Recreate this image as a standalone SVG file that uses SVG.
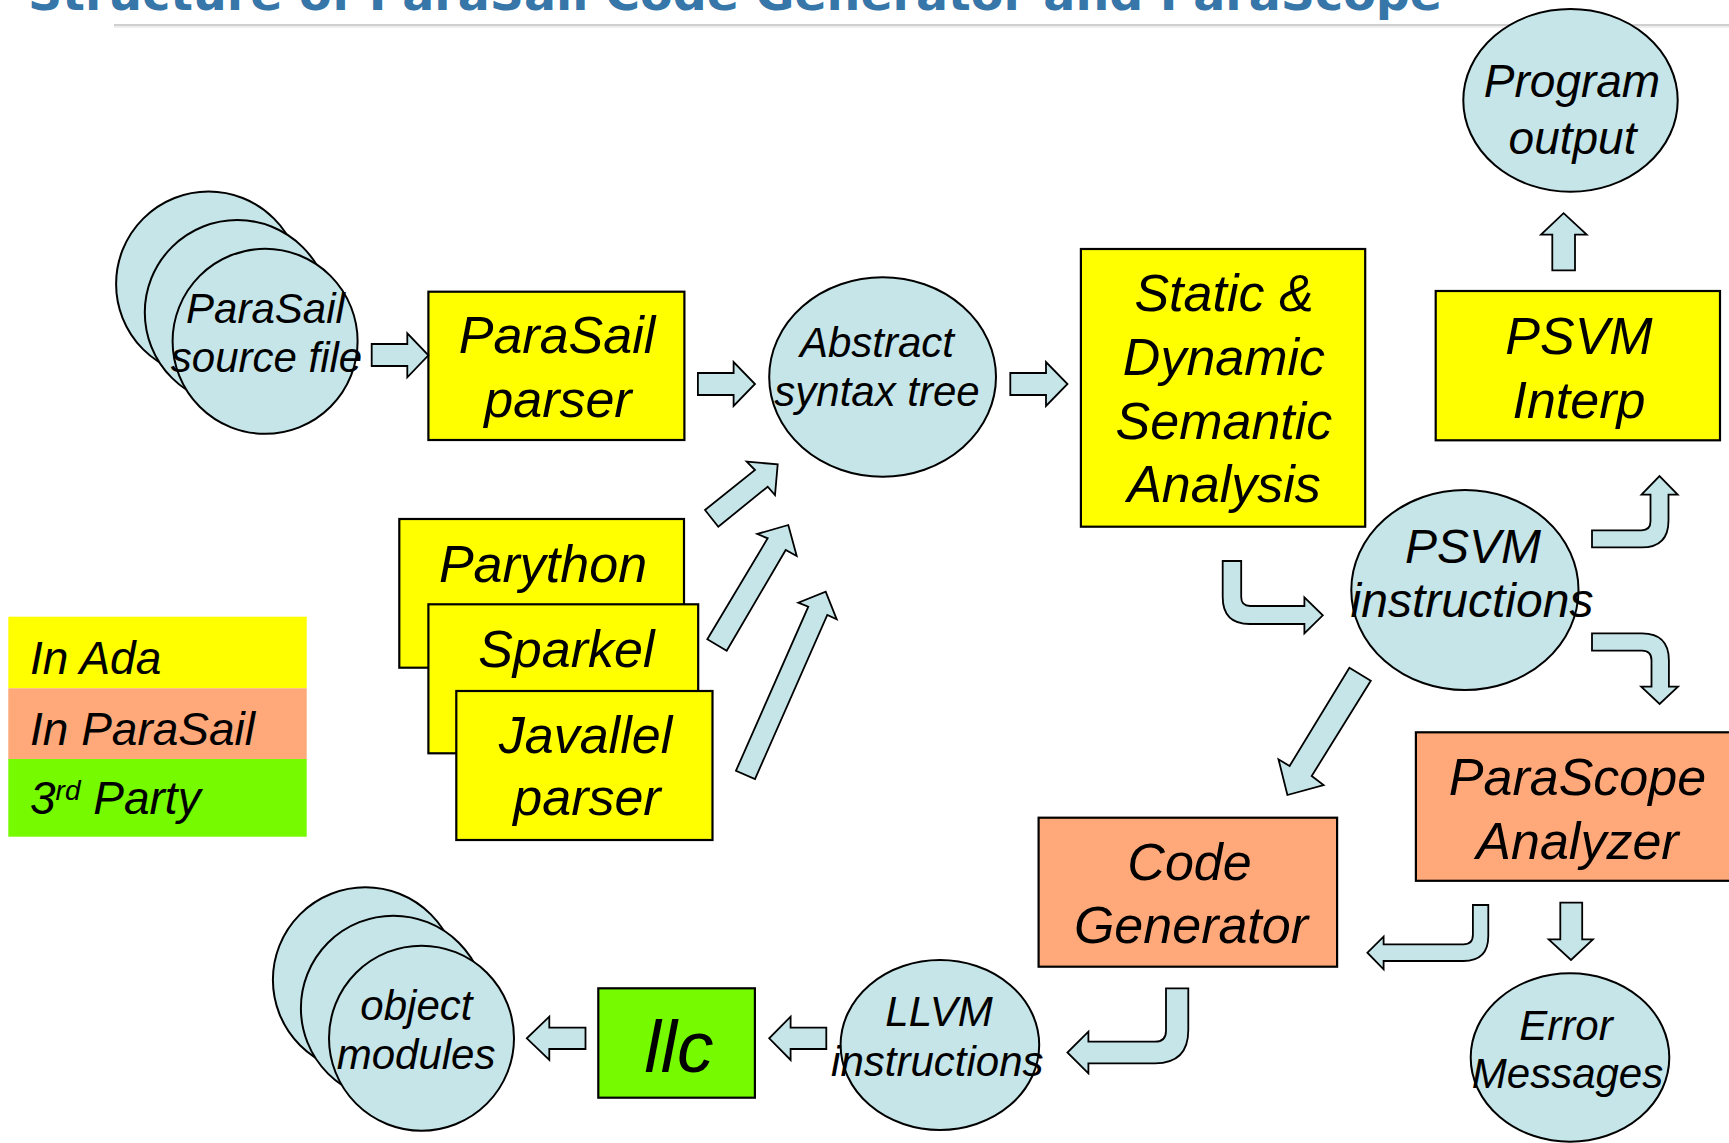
<svg xmlns="http://www.w3.org/2000/svg" width="1729" height="1143" viewBox="0 0 1729 1143">
<style>
.bg{fill:#ffffff}
.ell{fill:#c5e5e8;stroke:#000;stroke-width:2}
.ada{fill:#ffff00;stroke:#000;stroke-width:2.2}
.ps{fill:#ffa97a;stroke:#000;stroke-width:2.2}
.third{fill:#75fa00;stroke:#000;stroke-width:2.2}
.arr{fill:#c5e5e8;stroke:#000;stroke-width:1.8;stroke-linejoin:miter}
text{font-family:"Liberation Sans",Arial,sans-serif;font-style:italic;fill:#000}
.c{text-anchor:middle}
.t42{font-size:42px}
.t46{font-size:46px}
.t48{font-size:48px}
.t52{font-size:52px}
.title{font-family:"DejaVu Sans",Verdana,sans-serif;font-style:normal;font-weight:bold;font-size:47px;fill:#3676a8}
</style>
<rect class="bg" x="0" y="0" width="1729" height="1143"/>

<g id="title">
<text class="title" x="28" y="9.5" textLength="1414" lengthAdjust="spacingAndGlyphs">Structure of ParaSail Code Generator and ParaScope</text>
<line x1="114" y1="25" x2="1729" y2="25" stroke="#cfcfcf" stroke-width="2"/>
<line x1="114" y1="27" x2="1729" y2="27" stroke="#eeeeee" stroke-width="2"/>
</g>

<g id="legend">
<rect x="8.3" y="616.7" width="298.4" height="71.6" fill="#ffff00"/>
<rect x="8.3" y="688.3" width="298.4" height="70.7" fill="#ffa97a"/>
<rect x="8.3" y="759" width="298.4" height="77.7" fill="#75fa00"/>
<text class="t46" x="30" y="674.3">In Ada</text>
<text class="t46" x="30" y="745">In ParaSail</text>
<text class="t46" x="30" y="814">3<tspan font-size="28" dy="-14">rd</tspan><tspan dy="14"> Party</tspan></text>
</g>

<g id="source-file">
<circle class="ell" cx="208.6" cy="284" r="92.5"/>
<circle class="ell" cx="237.3" cy="312.5" r="92.5"/>
<circle class="ell" cx="265.1" cy="341.3" r="92.5"/>
<text class="t42 c" x="265.5" y="322.7">ParaSail</text>
<text class="t42 c" x="266.5" y="371.7">source file</text>
</g>

<g id="parasail-parser">
<rect class="ada" x="428.4" y="291.7" width="256" height="148.3"/>
<text class="t52 c" x="557" y="353">ParaSail</text>
<text class="t52 c" x="558" y="416.7">parser</text>
</g>

<g id="ast">
<ellipse class="ell" cx="882.6" cy="377" rx="113.4" ry="99.7"/>
<text class="t42 c" x="877" y="356.7">Abstract</text>
<text class="t42 c" x="877" y="405.7">syntax tree</text>
</g>

<g id="semantic-analysis">
<rect class="ada" x="1080.9" y="249" width="284.3" height="277.7"/>
<text class="t52 c" x="1224" y="310.7">Static &amp;</text>
<text class="t52 c" x="1224" y="375">Dynamic</text>
<text class="t52 c" x="1224" y="439.3">Semantic</text>
<text class="t52 c" x="1224" y="501.7">Analysis</text>
</g>

<g id="program-output">
<ellipse class="ell" cx="1570.5" cy="100.4" rx="107.2" ry="91.4"/>
<text class="t46 c" x="1572" y="97">Program</text>
<text class="t46 c" x="1572.5" y="153.6">output</text>
</g>

<g id="psvm-interp">
<rect class="ada" x="1435.7" y="291" width="284.3" height="149.3"/>
<text class="t52 c" x="1579" y="353.5">PSVM</text>
<text class="t52 c" x="1579" y="417.8">Interp</text>
</g>

<g id="psvm-instructions">
<ellipse class="ell" cx="1464.9" cy="590" rx="113.6" ry="100"/>
<text class="t48 c" x="1473" y="562.7">PSVM</text>
<text class="t48 c" x="1472" y="616.7">instructions</text>
</g>

<g id="parython">
<rect class="ada" x="399.3" y="519" width="284.7" height="148.7"/>
<text class="t52 c" x="543" y="581.7">Parython</text>
</g>

<g id="sparkel">
<rect class="ada" x="428.4" y="604.3" width="269.8" height="149"/>
<text class="t52 c" x="566.3" y="666.7">Sparkel</text>
</g>

<g id="javallel-parser">
<rect class="ada" x="456.3" y="691" width="256.2" height="149"/>
<text class="t52 c" x="585.5" y="753.3">Javallel</text>
<text class="t52 c" x="587" y="815">parser</text>
</g>

<g id="parascope-analyzer">
<rect class="ps" x="1415.9" y="732.3" width="330" height="148.5"/>
<text class="t52 c" x="1577.5" y="795">ParaScope</text>
<text class="t52 c" x="1577.5" y="859.3">Analyzer</text>
</g>

<g id="code-generator">
<rect class="ps" x="1038.6" y="817.7" width="298.5" height="149"/>
<text class="t52 c" x="1189.5" y="880">Code</text>
<text class="t52 c" x="1191" y="943.3">Generator</text>
</g>

<g id="error-messages">
<ellipse class="ell" cx="1570" cy="1057.5" rx="99.3" ry="84.2"/>
<text class="t42 c" x="1566" y="1040">Error</text>
<text class="t42 c" x="1567.5" y="1088.3">Messages</text>
</g>

<g id="llvm-instructions">
<ellipse class="ell" cx="939.9" cy="1045" rx="99.3" ry="85"/>
<text class="t42 c" x="939" y="1026">LLVM</text>
<text class="t42 c" x="937.3" y="1076">instructions</text>
</g>

<g id="llc">
<rect class="third" x="598.3" y="988.3" width="156.6" height="109.4"/>
<text class="c" font-size="73" x="679" y="1071.7">llc</text>
</g>

<g id="object-modules">
<circle class="ell" cx="365.4" cy="979.8" r="92.5"/>
<circle class="ell" cx="393.4" cy="1008.2" r="92.5"/>
<circle class="ell" cx="421.5" cy="1038.2" r="92.5"/>
<text class="t42 c" x="416.4" y="1020">object</text>
<text class="t42 c" x="416.1" y="1069.3">modules</text>
</g>

<g id="connectors">
<path class="arr" d="M371.7,344 H407.3 V333.3 L428.4,355.3 L407.3,377.3 V366 H371.7 Z"/>
<path class="arr" d="M697.9,373 H733.6 V362 L755,384 L733.6,406 V395 H697.9 Z"/>
<path class="arr" d="M1010.3,373 H1046 V362 L1067.5,384 L1046,406 V395 H1010.3 Z"/>
<path class="arr" d="M1552.3,270.3 V234.6 H1541 L1563.6,213.2 L1586.7,234.6 H1575 V270.3 Z"/>
<polygon class="arr" points="705,510 755,470 746.7,461.7 777.7,464.3 775,495 767.7,486.7 718.3,526.7"/>
<polygon class="arr" points="707.3,639.3 767.7,538.3 757.3,534 788.3,525 796.7,556 785.7,550 726.7,650.7"/>
<polygon class="arr" points="736,770.7 808.3,606.7 798.3,602.7 825.7,591.7 836.7,619.3 827.3,615 755,779"/>
<path class="arr" d="M1222.7,561 V597 Q1222.7,624 1249.7,624 H1304.4 V633.3 L1322.8,615.3 L1304.4,597.3 V606 H1250.2 Q1241.2,606 1241.2,597 V561 Z"/>
<path class="arr" d="M1592,530.3 H1641.5 Q1650.5,530.3 1650.5,521.3 V494.6 H1641.5 L1659.5,476 L1677.7,494.6 H1668.5 V520.4 Q1668.5,547.4 1641.5,547.4 H1592 Z"/>
<path class="arr" d="M1592,633.3 H1641.9 Q1668.9,633.3 1668.9,660.3 V686.7 H1678 L1659.6,704 L1641.2,686.7 H1651.5 V660.3 Q1651.5,650.7 1641.9,650.7 H1592 Z"/>
<polygon class="arr" points="1349.4,667.7 1370.8,680.7 1311.7,776 1323.6,785 1287.4,795 1278.5,759.3 1289.6,766"/>
<path class="arr" d="M1472.9,905 H1488.3 V936 Q1488.3,961 1463.3,961 H1383.6 V969.3 L1367.4,952.7 L1383.6,936.7 V944.3 H1463.3 Q1472.9,944.3 1472.9,934.7 Z"/>
<path class="arr" d="M1560.3,902.7 H1582.2 V939.3 H1592.9 L1571,960 L1548.7,939.3 H1560.3 Z"/>
<path class="arr" d="M1166,988.3 H1188.3 V1030 Q1188.3,1063.3 1155,1063.3 H1088.4 V1073.3 L1067.4,1052.5 L1088.4,1031.7 V1041.7 H1155 Q1166,1041.7 1166,1030.7 Z"/>
<path class="arr" d="M826.3,1027.7 H790.6 V1016.7 L769.2,1038.3 L790.6,1060 V1049 H826.3 Z"/>
<path class="arr" d="M585.5,1027.7 H549.3 V1016.7 L526.8,1038.3 L549.3,1060 V1049 H585.5 Z"/>
</g>
</svg>
